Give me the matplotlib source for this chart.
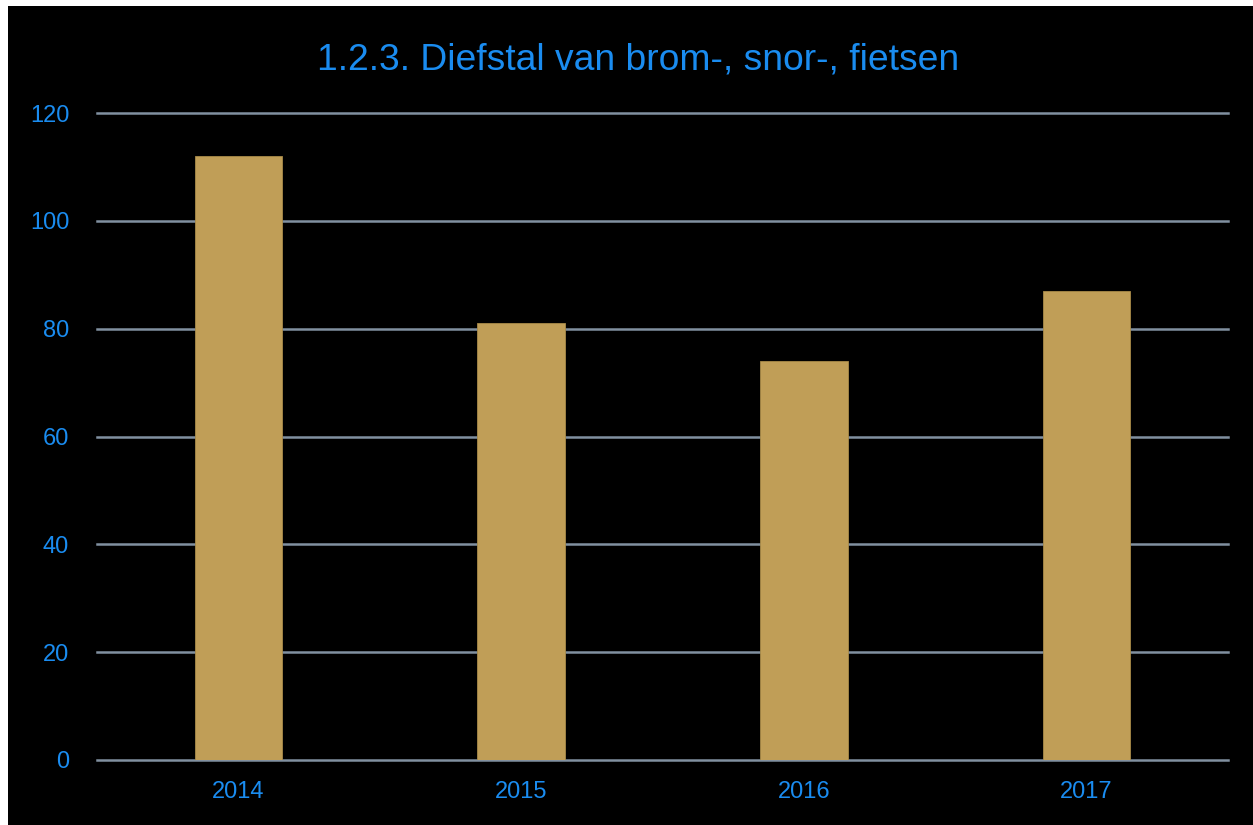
import matplotlib
matplotlib.use('Agg')
import matplotlib.pyplot as plt
from matplotlib.patches import Rectangle

years = ['2014', '2015', '2016', '2017']
counts = [112, 81, 74, 87]
yticks = [0, 20, 40, 60, 80, 100, 120]

C_BLUE = '#1a8cf0'
C_BAR = '#c09e57'
C_GRID = '#8190a0'

W, H = 1253, 825
fig = plt.figure(figsize=(W/100, H/100), dpi=100, facecolor='white')
# black slide area, white margin top and left
fig.patches.append(Rectangle((8/W, 0), 1 - 8/W, 1 - 6/H, transform=fig.transFigure,
                             fc='black', ec='none', zorder=-10, figure=fig))

ax = fig.add_axes([97/W, (H-760)/H, (1228-97)/W, (760-113)/H])
ax.set_facecolor('black')
ax.bar(range(len(years)), counts, width=0.31, color=C_BAR, edgecolor='#a88a48',
       linewidth=0.6, zorder=3)

ax.set_xlim(-0.5, len(years) - 0.5)
ax.set_ylim(0, 120)
ax.set_yticks(yticks)
ax.set_xticks(range(len(years)))
ax.set_xticklabels(years)
for y in yticks:
    ax.axhline(y, color=C_GRID, lw=1.8, zorder=1, clip_on=False)

for s in ax.spines.values():
    s.set_visible(False)
ax.tick_params(axis='both', length=0, colors=C_BLUE, labelsize=17)
ax.tick_params(axis='y', pad=20)
ax.tick_params(axis='x', pad=15)
for lab in ax.get_xticklabels() + ax.get_yticklabels():
    lab.set_fontfamily('Liberation Sans')

fig.text(638/W, (H-60)/H, '1.2.3. Diefstal van brom-, snor-, fietsen', ha='center', va='center',
         fontsize=26.8, color=C_BLUE, family='Liberation Sans')

fig.savefig('out.png', dpi=100, facecolor='white')
